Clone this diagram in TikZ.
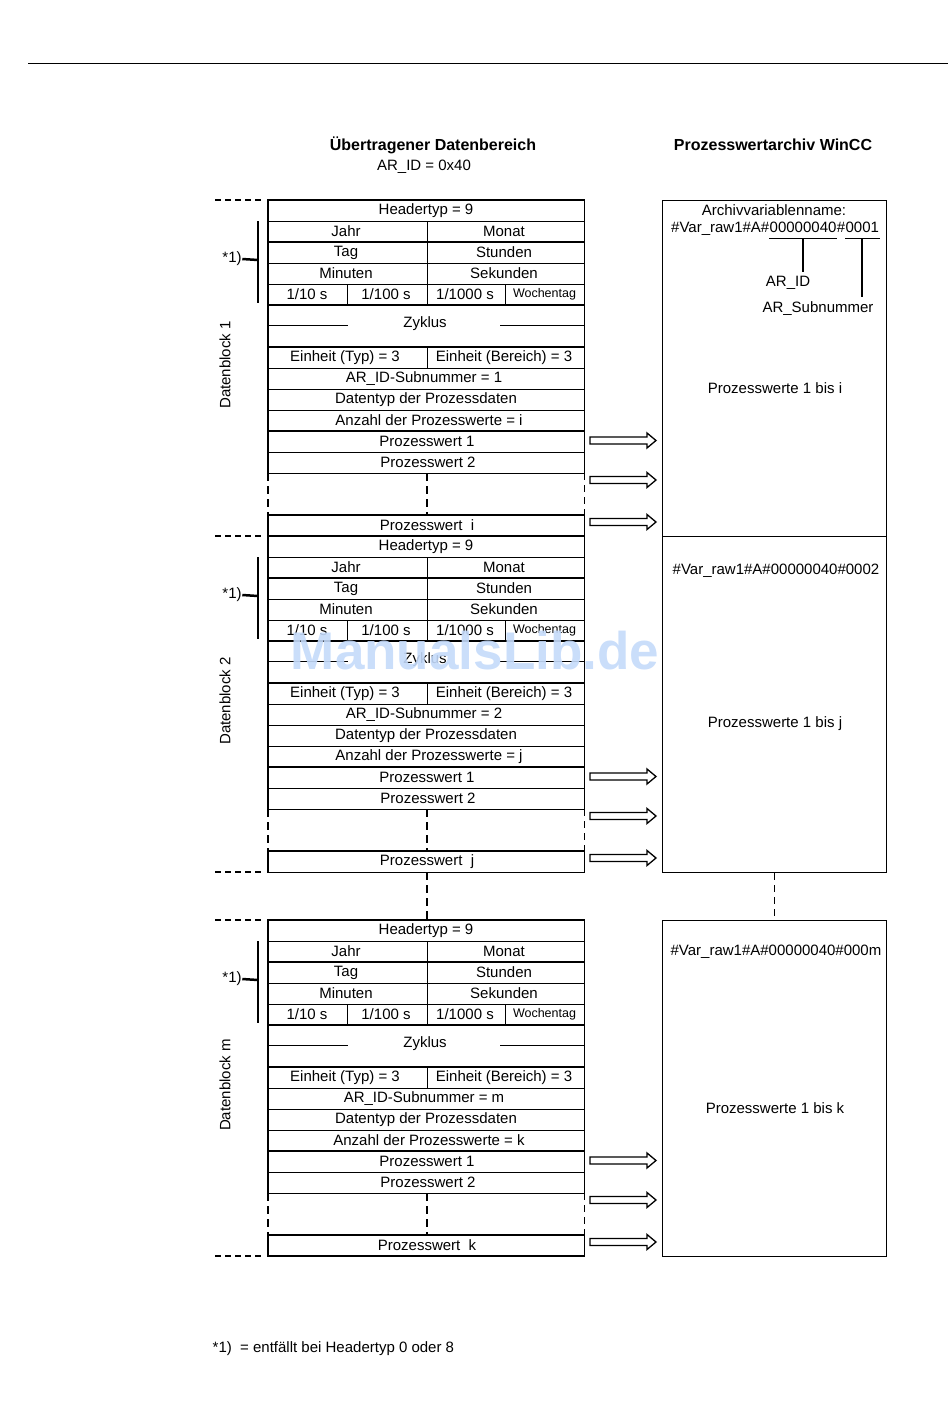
\documentclass[tikz,border=0pt]{standalone}
\usepackage{fontspec}
\setmainfont{Liberation Sans}
\usetikzlibrary{calc}
\newcommand\fsA{\fontsize{15}{18}\selectfont}
\newcommand\fsW{\fontsize{12.5}{15}\selectfont}
\newcommand\fsT{\fontsize{16}{19}\selectfont\bfseries}
\definecolor{wmark}{RGB}{196,218,250}
\tikzset{
 ln/.style={line width=1pt, line cap=rect},
 lk/.style={line width=1.8pt, line cap=rect},
 cell/.style={font=\fsA, inner sep=0.5pt, anchor=center},
 tickline/.style={line width=1.5pt, dash pattern=on 6pt off 4pt},
 dline/.style={line width=1pt, dash pattern=on 7pt off 5pt},
 dlinek/.style={line width=2pt, dash pattern=on 8pt off 5pt},
 parrowln/.style={line width=1.3pt, line join=miter, fill=white},
 brack/.style={line width=2.5pt},
 chain/.style={font=\fsA, inner sep=0pt, anchor=base west},
}
% hollow block arrow starting at a named coordinate
\newcommand\hollowarrow[1]{%
\draw[parrowln] (#1) ++(0,-3.5) -- ++(57,0) -- ++(0,-4) -- ++(9,7.5) -- ++(-9,7.5) -- ++(0,-4) -- ++(-57,0) -- cycle;}
\newcommand\dblock[5]{%
\begin{scope}[shift={(0,#1)}]
\foreach \yy in {21,63,84,168,189,210,252,273,336} \draw[ln] (268,\yy) -- (584,\yy);
\foreach \yy in {0,42,105,147,231,315} \draw[lk] (268,\yy) -- (584,\yy);
\draw[lk] (268,0) -- (268,273) (268,315) -- (268,336);
\draw[dlinek] (268,273) -- (268,315);
\draw[ln] (584,0) -- (584,273) (584,315) -- (584,336);
\draw[dline] (584,273) -- (584,315);
\draw[ln] (427,21) -- (427,105) (347,84) -- (347,105) (505,84) -- (505,105) (427,147) -- (427,168);
\coordinate (top#2) at (427,0);
\coordinate (bot#2) at (427,336);
\draw[dlinek] (427,273) -- (427,315);
\draw[ln] (268,125) -- (347,125) (500,125) -- (584,125);
\node[cell] (hd#2) at (426,10.5) {Headertyp = 9};
\node[cell] (ja#2) at (346,31.5) {Jahr};
\node[cell] (mo#2) at (504,31.5) {Monat};
\node[cell] (ta#2) at (346,52.5) {Tag};
\node[cell] (sd#2) at (504,52.5) {Stunden};
\node[cell] (mi#2) at (346,73.5) {Minuten};
\node[cell] (se#2) at (504,73.5) {Sekunden};
\node[cell] (za#2) at (307,94.5) {1/10 s};
\node[cell] (zb#2) at (386,94.5) {1/100 s};
\node[cell] (zc#2) at (465,94.5) {1/1000 s};
\node[cell,font=\fsW] (wt#2) at (544.5,94.5) {Wochentag};
\node[cell] (zy#2) at (425,124) {Zyklus};
\node[cell] (et#2) at (345,157.5) {Einheit (Typ) = 3};
\node[cell] (eb#2) at (504,157.5) {Einheit (Bereich) = 3};
\node[cell] (as#2) at (424,178.5) {AR\_ID-Subnummer = #3};
\node[cell] (dt#2) at (426,199.5) {Datentyp der Prozessdaten};
\node[cell] (an#2) at (429,220.5) {Anzahl der Prozesswerte = #4};
\node[cell] (p1#2) at (427,241.5) {Prozesswert 1};
\node[cell] (p2#2) at (428,262.5) {Prozesswert 2};
\node[cell] (pn#2) at (427,325.5) {Prozesswert\ \ #4};
\draw[tickline] (215,0) -- (264,0);
\draw[tickline] (215,336) -- (264,336);
\coordinate (bt#2) at (258,60);
\draw[brack] (258,21) -- (258,103);
\node[cell] (st#2) at (232,59) {*1)};
\draw[brack] (st#2.east) -- (bt#2);
\node[cell,rotate=90] (lb#2) at (225,165) {#5};
\coordinate (pa#2) at (590,240.5);
\coordinate (pb#2) at (590,280);
\coordinate (pc#2) at (590,322);
\hollowarrow{pa#2}
\hollowarrow{pb#2}
\hollowarrow{pc#2}
\node[draw, line width=1pt, minimum width=224pt, minimum height=336pt, inner sep=0pt, anchor=north west] (rb#2) at (662,0) {};
\node[cell] (pw#2) at (775,188) {Prozesswerte 1 bis #4};
\end{scope}}
\begin{document}
\begin{tikzpicture}[x=1pt,y=-1pt]
\useasboundingbox (0,0) rectangle (950,1408);
\draw[line width=0.8pt] (28,63) -- (948,63);
\node[font=\fsT, inner sep=0pt] (t1) at (433,145) {Übertragener Datenbereich};
\node[font=\fsT, inner sep=0pt] (t2) at (773,145) {Prozesswertarchiv WinCC};
\node[cell] (ar0) at (424,167) {AR\_ID = 0x40};
\dblock{200}{1}{1}{i}{Datenblock 1}
\dblock{536}{2}{2}{j}{Datenblock 2}
\dblock{920}{3}{m}{k}{Datenblock m}
% right box 1 texts
\node[cell] (avn) at (774,210) {Archivvariablenname:};
\node[chain] (v1) at (671,232.5) {\#Var\_raw1\#A\#};
\node[chain] (v2) at (v1.base east) {00000040};
\node[chain] (v3) at (v2.base east) {\#};
\node[chain] (v4) at (v3.base east) {0001};
\draw[ln] ($(v2.base west)+(0,6)$) -- ($(v2.base east)+(0,6)$);
\draw[ln] ($(v4.base west)+(0,6)$) -- ($(v4.base east)+(0,6)$);
\coordinate (u1) at ($(v2.base)+(0,6)$);
\coordinate (u2) at ($(v4.base)+(0,6)$);
\node[cell] (arid) at (788,283) {AR\_ID};
\node[cell] (arsub) at (818,309) {AR\_Subnummer};
\draw[lk] (u1) -- ($(u1 |- arid.north)+(0,-5)$);
\draw[lk] (u2) -- ($(u2 |- arsub.north)+(0,-5)$);
\node[cell] (vn2) at (776,571) {\#Var\_raw1\#A\#00000040\#0002};
\node[cell] (vn3) at (776,952) {\#Var\_raw1\#A\#00000040\#000m};
% gap between block 2 and block m
\draw[dlinek] (bot2) -- (top3);
\draw[dline] (rb2.south) -- (rb3.north);
\draw[lk] (268,1256) -- (584,1256);
% footnote
\node[cell, anchor=base west] (fn) at (212,1352) {*1)\ \ = entfällt bei Headertyp 0 oder 8};
% watermark
\node[font=\fontsize{53}{60}\selectfont\bfseries, text=wmark, opacity=0.9, inner sep=0pt] (wm) at (475,651) {ManualsLib.de};
\end{tikzpicture}
\end{document}
